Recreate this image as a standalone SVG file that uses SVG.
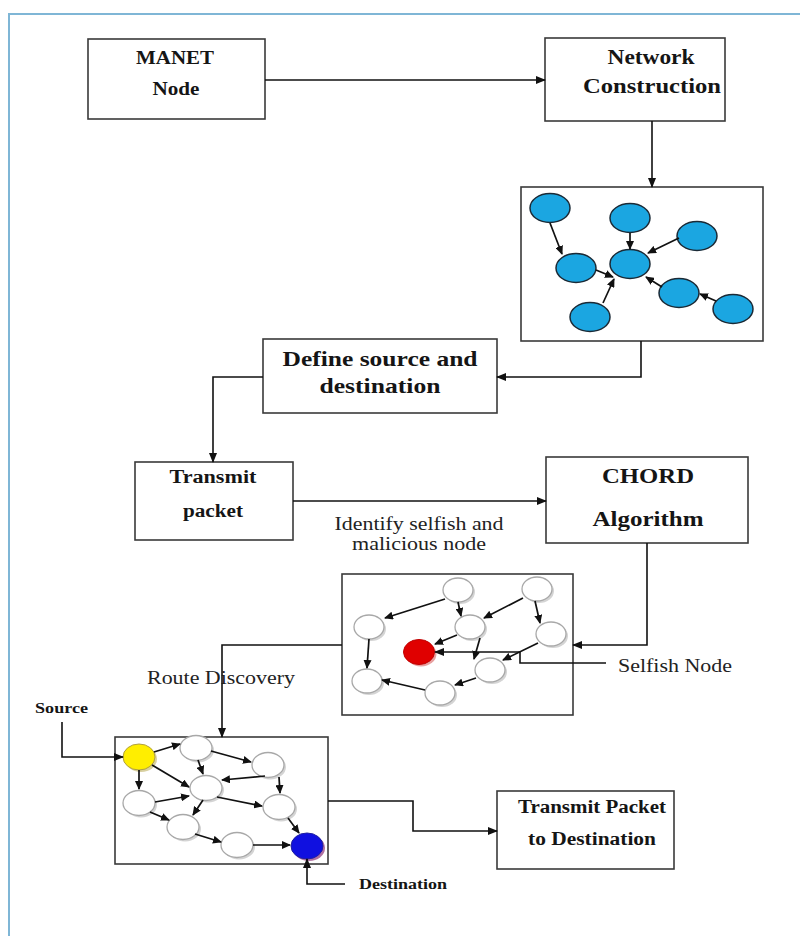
<svg xmlns="http://www.w3.org/2000/svg" width="800" height="936" viewBox="0 0 800 936">
<defs>
<marker id="ah" markerWidth="10" markerHeight="8" refX="9" refY="4" orient="auto" markerUnits="userSpaceOnUse"><path d="M0,0 L10,4 L0,8 z" fill="#111"/></marker>
<marker id="as" markerWidth="9" markerHeight="8" refX="8" refY="4" orient="auto" markerUnits="userSpaceOnUse"><path d="M0,0 L9,4 L0,8 z" fill="#111"/></marker>
<style>
.box{fill:#fff;stroke:#3a3a3a;stroke-width:1.6}
.c{fill:none;stroke:#111;stroke-width:1.6}
.ca{fill:none;stroke:#111;stroke-width:1.6;marker-end:url(#ah)}
.e{fill:none;stroke:#111;stroke-width:1.7;marker-end:url(#as)}
.lb{font-family:"Liberation Serif","Times New Roman",serif;font-weight:bold;fill:#151515;text-anchor:middle}
.ls{font-family:"Liberation Serif","Times New Roman",serif;font-weight:bold;fill:#151515;text-anchor:start}
.rg{font-family:"Liberation Serif","Times New Roman",serif;fill:#222}
.bn{fill:#1ba6e1;stroke:#1b2a36;stroke-width:1.5}
.wn{fill:#fff;stroke:#a8a8a8;stroke-width:1.3}
.sh{fill:#d4d4d4}
</style>
</defs>
<rect x="9" y="14" width="820" height="960" fill="none" stroke="#7fb6d6" stroke-width="2"/>

<g id="manet">
<rect class="box" x="88" y="39" width="177" height="80"/>
<text class="lb" x="175" y="64" font-size="19" textLength="78" lengthAdjust="spacingAndGlyphs">MANET</text>
<text class="lb" x="176" y="95" font-size="19" textLength="47" lengthAdjust="spacingAndGlyphs">Node</text>
</g>
<g id="netcon">
<rect class="box" x="545" y="38" width="180" height="83"/>
<text class="lb" x="651" y="64" font-size="21" textLength="87" lengthAdjust="spacingAndGlyphs">Network</text>
<text class="lb" x="652" y="93" font-size="21" textLength="138" lengthAdjust="spacingAndGlyphs">Construction</text>
</g>
<g id="bluegraph">
<rect class="box" x="521" y="187" width="242" height="154"/>
<g>
<ellipse class="bn" cx="550" cy="208" rx="20" ry="14.5"/>
<ellipse class="bn" cx="630" cy="218" rx="20" ry="14.5"/>
<ellipse class="bn" cx="697" cy="236" rx="20" ry="14.5"/>
<ellipse class="bn" cx="576" cy="268" rx="20" ry="14.5"/>
<ellipse class="bn" cx="630" cy="264" rx="20" ry="14.5"/>
<ellipse class="bn" cx="679" cy="293" rx="20" ry="14.5"/>
<ellipse class="bn" cx="590" cy="317" rx="20" ry="14.5"/>
<ellipse class="bn" cx="733" cy="309" rx="20" ry="14.5"/>
</g>
<g>
<path class="e" d="M550,223 L562,254"/>
<path class="e" d="M630,233 L630,249"/>
<path class="e" d="M679,238 L648,253"/>
<path class="e" d="M596,270 L613,277"/>
<path class="e" d="M603,303 L614,279"/>
<path class="e" d="M662,287 L646,277"/>
<path class="e" d="M716,301 L700,294"/>
</g>
</g>
<g id="define">
<rect class="box" x="263" y="339" width="234" height="74"/>
<text class="lb" x="380" y="366" font-size="22" textLength="195" lengthAdjust="spacingAndGlyphs">Define source and</text>
<text class="lb" x="380" y="393" font-size="22" textLength="121" lengthAdjust="spacingAndGlyphs">destination</text>
</g>
<g id="transmit">
<rect class="box" x="135" y="462" width="158" height="78"/>
<text class="lb" x="213" y="483" font-size="18" textLength="87" lengthAdjust="spacingAndGlyphs">Transmit</text>
<text class="lb" x="213" y="517" font-size="18" textLength="60" lengthAdjust="spacingAndGlyphs">packet</text>
</g>
<g id="chord">
<rect class="box" x="546" y="457" width="202" height="86"/>
<text class="lb" x="648" y="483" font-size="21" textLength="92" lengthAdjust="spacingAndGlyphs">CHORD</text>
<text class="lb" x="648" y="526" font-size="21" textLength="111" lengthAdjust="spacingAndGlyphs">Algorithm</text>
</g>
<g id="identify-label">
<text class="rg" x="419" y="530" font-size="18" text-anchor="middle" textLength="169" lengthAdjust="spacingAndGlyphs">Identify selfish and</text>
<text class="rg" x="419" y="550" font-size="18" text-anchor="middle" textLength="134" lengthAdjust="spacingAndGlyphs">malicious node</text>
</g>
<g id="selfishgraph">
<rect class="box" x="342" y="574" width="231" height="141"/>
<g>
<ellipse class="sh" cx="460" cy="592" rx="15" ry="12"/><ellipse class="wn" cx="458" cy="590" rx="15" ry="12"/>
<ellipse class="sh" cx="539" cy="591" rx="15" ry="12"/><ellipse class="wn" cx="537" cy="589" rx="15" ry="12"/>
<ellipse class="sh" cx="371" cy="629" rx="15" ry="12"/><ellipse class="wn" cx="369" cy="627" rx="15" ry="12"/>
<ellipse class="sh" cx="472" cy="629" rx="15" ry="12"/><ellipse class="wn" cx="470" cy="627" rx="15" ry="12"/>
<ellipse class="sh" cx="553" cy="636" rx="15" ry="12"/><ellipse class="wn" cx="551" cy="634" rx="15" ry="12"/>
<ellipse class="sh" cx="492" cy="672" rx="15" ry="12"/><ellipse class="wn" cx="490" cy="670" rx="15" ry="12"/>
<ellipse class="sh" cx="369" cy="683" rx="15" ry="12"/><ellipse class="wn" cx="367" cy="681" rx="15" ry="12"/>
<ellipse class="sh" cx="442" cy="695" rx="15" ry="12"/><ellipse class="wn" cx="440" cy="693" rx="15" ry="12"/>
<ellipse cx="421" cy="654" rx="15.5" ry="12.5" fill="#e8a0a0"/>
<ellipse cx="419" cy="652" rx="15.5" ry="12.5" fill="#e00000" stroke="#c00000" stroke-width="1"/>
</g>
<g>
<path class="e" d="M445,599 L385,618"/>
<path class="e" d="M458,602 L461,616"/>
<path class="e" d="M523,598 L484,618"/>
<path class="e" d="M535,601 L540,623"/>
<path class="e" d="M457,635 L435,644"/>
<path class="e" d="M480,638 L474,659"/>
<path class="e" d="M538,643 L503,660"/>
<path class="e" d="M369,639 L367,668"/>
<path class="e" d="M476,678 L455,685"/>
<path class="e" d="M425,690 L382,680"/>
</g>
</g>
<g id="selfish-label">
<text class="rg" x="618" y="672" font-size="18" textLength="114" lengthAdjust="spacingAndGlyphs">Selfish Node</text>
</g>
<g id="route-label">
<text class="rg" x="147" y="684" font-size="18" textLength="148" lengthAdjust="spacingAndGlyphs">Route Discovery</text>
</g>
<g id="source-label">
<text class="ls" x="35" y="713" font-size="14" textLength="53" lengthAdjust="spacingAndGlyphs">Source</text>
</g>
<g id="sourcegraph">
<rect class="box" x="115" y="737" width="213" height="127"/>
<g>
<ellipse class="sh" cx="198" cy="750" rx="16" ry="12.5"/><ellipse class="wn" cx="196" cy="748" rx="16" ry="12.5"/>
<ellipse class="sh" cx="270" cy="767" rx="16" ry="12.5"/><ellipse class="wn" cx="268" cy="765" rx="16" ry="12.5"/>
<ellipse class="sh" cx="141" cy="805" rx="16" ry="12.5"/><ellipse class="wn" cx="139" cy="803" rx="16" ry="12.5"/>
<ellipse class="sh" cx="208" cy="790" rx="16" ry="12.5"/><ellipse class="wn" cx="206" cy="788" rx="16" ry="12.5"/>
<ellipse class="sh" cx="281" cy="809" rx="16" ry="12.5"/><ellipse class="wn" cx="279" cy="807" rx="16" ry="12.5"/>
<ellipse class="sh" cx="185" cy="829" rx="16" ry="12.5"/><ellipse class="wn" cx="183" cy="827" rx="16" ry="12.5"/>
<ellipse class="sh" cx="239" cy="847" rx="16" ry="12.5"/><ellipse class="wn" cx="237" cy="845" rx="16" ry="12.5"/>
<ellipse cx="141" cy="759" rx="16" ry="13" fill="#d8d0a0"/>
<ellipse cx="139" cy="757" rx="16" ry="13" fill="#ffee00" stroke="#b0a040" stroke-width="1"/>
<ellipse cx="309" cy="848" rx="16" ry="13" fill="#b070a0"/>
<ellipse cx="307" cy="846" rx="16" ry="13" fill="#1010e0" stroke="#2020a0" stroke-width="1"/>
</g>
<g>
<path class="e" d="M154,752 L180,744"/>
<path class="e" d="M139,770 L139,789"/>
<path class="e" d="M152,765 L189,787"/>
<path class="e" d="M198,760 L203,774"/>
<path class="e" d="M211,751 L251,762"/>
<path class="e" d="M265,776 L222,780"/>
<path class="e" d="M279,777 L280,793"/>
<path class="e" d="M155,802 L189,796"/>
<path class="e" d="M150,812 L169,820"/>
<path class="e" d="M203,800 L193,815"/>
<path class="e" d="M217,797 L262,806"/>
<path class="e" d="M288,818 L299,833"/>
<path class="e" d="M195,834 L221,842"/>
<path class="e" d="M253,845 L290,845"/>
</g>
</g>
<g id="destination-label">
<text class="ls" x="359" y="889" font-size="14" textLength="88" lengthAdjust="spacingAndGlyphs">Destination</text>
</g>
<g id="transmitdest">
<rect class="box" x="497" y="791" width="177" height="78"/>
<text class="lb" x="592" y="813" font-size="18" textLength="148" lengthAdjust="spacingAndGlyphs">Transmit Packet</text>
<text class="lb" x="592" y="845" font-size="18" textLength="128" lengthAdjust="spacingAndGlyphs">to Destination</text>
</g>

<g id="connectors">
<path class="ca" d="M265,80 L545,80"/>
<path class="ca" d="M652,121 L652,187"/>
<path class="ca" d="M641,341 L641,377 L497,377"/>
<path class="ca" d="M263,377 L213,377 L213,462"/>
<path class="ca" d="M293,501 L546,501"/>
<path class="ca" d="M647,543 L647,645 L573,645"/>
<path class="ca" d="M606,663 L520,663 L520,652 L435,652"/>
<path class="ca" d="M342,645 L222,645 L222,737"/>
<path class="ca" d="M62,722 L62,757 L123,757"/>
<path class="ca" d="M345,884 L307,884 L307,859"/>
<path class="ca" d="M328,801 L413,801 L413,831 L497,831"/>
</g>
</svg>
